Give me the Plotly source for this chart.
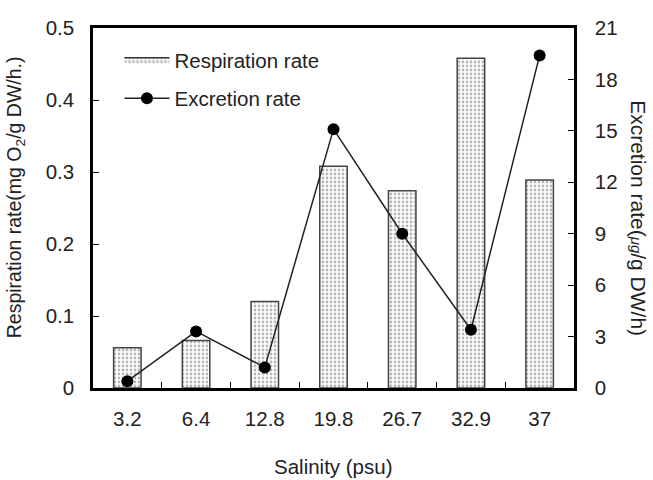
import plotly.graph_objects as go

salinity = ["3.2", "6.4", "12.8", "19.8", "26.7", "32.9", "37"]
respiration = [0.056, 0.066, 0.12, 0.308, 0.274, 0.458, 0.289]
excretion = [0.4, 3.3, 1.2, 15.1, 9.0, 3.4, 19.4]

FONT = "Liberation Sans, Arial, sans-serif"
FS = 20.5
DOTS = dict(shape=".", fgcolor="#707070", bgcolor="white", size=4, solidity=0.38)

fig = go.Figure()
fig.add_trace(go.Bar(
    x=salinity, y=respiration, name="Respiration rate", width=0.4,
    marker=dict(color="white", line=dict(color="#444", width=1.5), pattern=DOTS),
    showlegend=False, yaxis="y"))
# legend-only entry that shows a wide dotted swatch for the bars
fig.add_trace(go.Scatter(
    x=[None], y=[None], name="Respiration rate", mode="lines", fill="toself",
    fillcolor="white", fillpattern=DOTS, line=dict(color="#333", width=1.5),
    legendgroup="a", yaxis="y", hoverinfo="skip"))
fig.add_trace(go.Scatter(
    x=salinity, y=excretion, name="Excretion rate", mode="lines+markers",
    line=dict(color="#222", width=1.5), marker=dict(color="black", size=12),
    legendgroup="b", yaxis="y2"))

fig.update_layout(
    width=653, height=480, margin=dict(l=93, r=79, t=28, b=92),
    plot_bgcolor="white", paper_bgcolor="white",
    font=dict(family=FONT, size=FS, color="#222"),
    showlegend=True,
    legend=dict(x=0.055, y=0.967, xanchor="left", yanchor="top", bgcolor="rgba(0,0,0,0)",
                font=dict(size=FS), traceorder="grouped", tracegroupgap=9, itemwidth=45),
    xaxis=dict(type="category", categoryorder="array", categoryarray=salinity,
               showline=True, linecolor="black", linewidth=2.5, mirror=True,
               ticks="inside", tickson="boundaries", ticklen=6, tickcolor="black",
               ticklabelstandoff=11, showgrid=False, zeroline=False),
    yaxis=dict(range=[0, 0.5], dtick=0.1, showline=True, linecolor="black",
               linewidth=2.5, ticks="inside", ticklen=6, tickcolor="black", showgrid=False,
               zeroline=False, ticklabelstandoff=12),
    yaxis2=dict(range=[0, 21], dtick=3, overlaying="y", side="right", showline=True,
                linecolor="black", linewidth=2.5, ticks="inside", ticklen=6, tickcolor="black",
                showgrid=False, zeroline=False, ticklabelstandoff=14),
    annotations=[
        dict(text="Respiration rate(mg O<sub>2</sub>/g DW/h.)", xref="paper", yref="paper",
             x=-0.162, y=0.53, xanchor="center", yanchor="middle", textangle=-90,
             showarrow=False, font=dict(size=19.5)),
        dict(text="Excretion rate(<i><span style='font-size:15px'>μg</span></i>/g DW/h)",
             xref="paper", yref="paper", x=1.135, y=0.472, xanchor="center", yanchor="middle",
             textangle=90, showarrow=False, font=dict(size=21)),
        dict(text="Salinity (psu)", xref="paper", yref="paper", x=0.5, y=-0.217,
             xanchor="center", yanchor="middle", showarrow=False, font=dict(size=FS)),
    ],
)
fig.write_html("out.html")
